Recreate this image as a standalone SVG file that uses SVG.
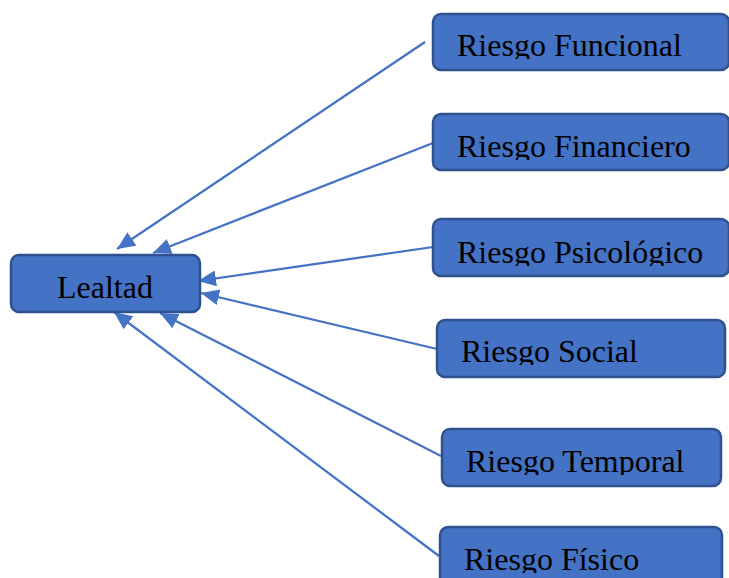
<svg xmlns="http://www.w3.org/2000/svg" width="729" height="578" viewBox="0 0 729 578">
  <style>
    .box { fill: #4472C4; stroke: #2F528F; stroke-width: 2.5; }
    .lbl { font-family: "Liberation Serif", "Times New Roman", serif; font-size: 32px; fill: #000; }
    .edge { stroke: #4472C4; stroke-width: 2.25; fill: none; marker-end: url(#arrow); }
  </style>
  <defs>
    <marker id="arrow" markerUnits="userSpaceOnUse" markerWidth="19" markerHeight="16" refX="18" refY="8" orient="auto">
      <path d="M0,0 L18,8 L0,16 Z" fill="#4472C4"/>
    </marker>
    <!-- label areas: text is cut just below the baseline -->
    <clipPath id="c1"><rect x="433" y="13" width="296" height="46"/></clipPath>
    <clipPath id="c2"><rect x="433" y="113" width="296" height="47"/></clipPath>
    <clipPath id="c3"><rect x="433" y="218" width="296" height="48"/></clipPath>
    <clipPath id="c4"><rect x="437" y="319" width="290" height="46"/></clipPath>
    <clipPath id="c5"><rect x="441" y="429" width="282" height="46"/></clipPath>
    <clipPath id="c6"><rect x="440" y="527" width="283" height="46"/></clipPath>
  </defs>

  <g id="connectors">
    <line class="edge" x1="425" y1="42" x2="117" y2="249"/>
    <line class="edge" x1="433" y1="143" x2="153" y2="253"/>
    <line class="edge" x1="433" y1="247" x2="198" y2="281"/>
    <line class="edge" x1="437" y1="349" x2="201" y2="293"/>
    <line class="edge" x1="441" y1="456" x2="160" y2="313"/>
    <line class="edge" x1="439" y1="556" x2="114" y2="312"/>
  </g>

  <g id="lealtad">
    <rect class="box" x="11" y="255" width="189" height="57" rx="8"/>
    <text class="lbl" x="57" y="298">Lealtad</text>
  </g>

  <g id="riesgo-funcional">
    <rect class="box" x="433" y="14" width="296" height="56" rx="8"/>
    <text class="lbl" x="457" y="56" clip-path="url(#c1)">Riesgo Funcional</text>
  </g>

  <g id="riesgo-financiero">
    <rect class="box" x="433" y="114" width="296" height="56" rx="8"/>
    <text class="lbl" x="457" y="157" clip-path="url(#c2)">Riesgo Financiero</text>
  </g>

  <g id="riesgo-psicologico">
    <rect class="box" x="433" y="219" width="296" height="57" rx="8"/>
    <text class="lbl" x="457" y="263" clip-path="url(#c3)">Riesgo Psicológico</text>
  </g>

  <g id="riesgo-social">
    <rect class="box" x="437" y="320" width="288" height="57" rx="8"/>
    <text class="lbl" x="461" y="362" clip-path="url(#c4)">Riesgo Social</text>
  </g>

  <g id="riesgo-temporal">
    <rect class="box" x="442" y="429" width="279" height="57" rx="8"/>
    <text class="lbl" x="466" y="472" clip-path="url(#c5)">Riesgo Temporal</text>
  </g>

  <g id="riesgo-fisico">
    <rect class="box" x="440" y="527" width="282" height="60" rx="8"/>
    <text class="lbl" x="464" y="570" clip-path="url(#c6)">Riesgo Físico</text>
  </g>
</svg>
